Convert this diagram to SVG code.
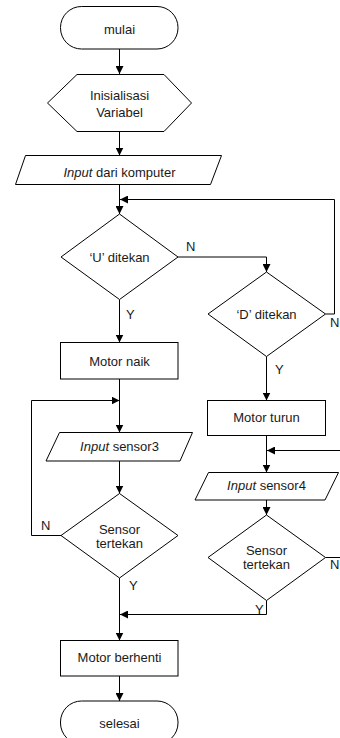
<svg xmlns="http://www.w3.org/2000/svg" width="340" height="738" viewBox="0 0 340 738">
  <style>
    .shape { fill: #ffffff; stroke: #000000; stroke-width: 1; }
    .wire { fill: none; stroke: #000000; stroke-width: 1; }
    text { font-family: "Liberation Sans", Arial, sans-serif; font-size: 13px; fill: #1a1a1a; }
    .c { text-anchor: middle; }
    .i { font-style: italic; }
  </style>
  <defs>
    <marker id="arrow" markerUnits="userSpaceOnUse" markerWidth="8" markerHeight="8" refX="8" refY="4" orient="auto">
      <path d="M0,0 L8,4 L0,8 z" fill="#000000"/>
    </marker>
  </defs>
  <rect width="340" height="738" fill="#ffffff"/>

  <!-- connectors -->
  <g id="connectors">
    <path class="wire" d="M119.5,49 V74" marker-end="url(#arrow)"/>
    <path class="wire" d="M119.5,131.5 V155.5" marker-end="url(#arrow)"/>
    <path class="wire" d="M119.5,184.5 V214" marker-end="url(#arrow)"/>
    <path class="wire" d="M325.5,314 H334.5 V199.5 H120" marker-end="url(#arrow)"/>
    <path class="wire" d="M178,257 H266.5 V272" marker-end="url(#arrow)"/>
    <path class="wire" d="M119.5,299.5 V342.5" marker-end="url(#arrow)"/>
    <path class="wire" d="M119.5,379 V432.5" marker-end="url(#arrow)"/>
    <path class="wire" d="M61,535.5 H31.5 V400.5 H119.5" marker-end="url(#arrow)"/>
    <path class="wire" d="M119.5,461 V493.5" marker-end="url(#arrow)"/>
    <path class="wire" d="M266.5,356.5 V400.5" marker-end="url(#arrow)"/>
    <path class="wire" d="M266.5,435.5 V472.5" marker-end="url(#arrow)"/>
    <path class="wire" d="M341,450.5 H267" marker-end="url(#arrow)"/>
    <path class="wire" d="M266.5,500 V515" marker-end="url(#arrow)"/>
    <path class="wire" d="M325.5,557.5 H341"/>
    <path class="wire" d="M266.5,600.5 V614.5 H120" marker-end="url(#arrow)"/>
    <path class="wire" d="M119.5,578 V640.5" marker-end="url(#arrow)"/>
    <path class="wire" d="M119.5,676 V701" marker-end="url(#arrow)"/>
  </g>

  <!-- branch labels -->
  <g id="labels">
    <text x="186" y="251">N</text>
    <text x="126" y="318.5">Y</text>
    <text x="330" y="326.5">N</text>
    <text x="275" y="374">Y</text>
    <text x="41" y="530">N</text>
    <text x="330" y="568.5">N</text>
    <text x="129" y="589.5">Y</text>
    <text x="255" y="613.5">Y</text>
  </g>

  <g id="mulai">
    <rect class="shape" x="60.5" y="6.5" width="117.5" height="42.5" rx="21" ry="21"/>
    <text class="c" x="119.5" y="33.5">mulai</text>
  </g>

  <g id="inisialisasi">
    <polygon class="shape" points="47.5,103 77,74.5 164,74.5 191.5,103 164,131.5 77,131.5"/>
    <text class="c" x="119.5" y="100">Inisialisasi</text>
    <text class="c" x="119.5" y="117">Variabel</text>
  </g>

  <g id="input-komputer">
    <polygon class="shape" points="25.5,155.5 221.5,155.5 210.5,184.5 15.5,184.5"/>
    <text class="c" x="119.5" y="176.5"><tspan class="i">Input</tspan> dari komputer</text>
  </g>

  <g id="cek-u">
    <polygon class="shape" points="119.5,214 178,257 119.5,299.5 61,257"/>
    <text class="c" x="119.5" y="261.5">‘U’ ditekan</text>
  </g>

  <g id="cek-d">
    <polygon class="shape" points="266.5,272 325.5,314 266.5,356.5 208,314"/>
    <text class="c" x="266.5" y="318.5">‘D’ ditekan</text>
  </g>

  <g id="motor-naik">
    <rect class="shape" x="60.5" y="342.5" width="117.5" height="36.5"/>
    <text class="c" x="119.5" y="365.5">Motor naik</text>
  </g>

  <g id="input-sensor3">
    <polygon class="shape" points="59.5,432.5 192.5,432.5 180,461 46,461"/>
    <text class="c" x="119.5" y="451"><tspan class="i">Input</tspan> sensor3</text>
  </g>

  <g id="sensor3-tertekan">
    <polygon class="shape" points="119.5,493.5 178,535.5 119.5,578 61,535.5"/>
    <text class="c" x="119.5" y="533.5">Sensor</text>
    <text class="c" x="119.5" y="548">tertekan</text>
  </g>

  <g id="motor-turun">
    <rect class="shape" x="207.5" y="400.5" width="118" height="35"/>
    <text class="c" x="266.5" y="421.5">Motor turun</text>
  </g>

  <g id="input-sensor4">
    <polygon class="shape" points="208.5,472.5 338.5,472.5 325,500 195,500"/>
    <text class="c" x="266.5" y="490"><tspan class="i">Input</tspan> sensor4</text>
  </g>

  <g id="sensor4-tertekan">
    <polygon class="shape" points="266.5,515 325.5,557.5 266.5,600.5 208,557.5"/>
    <text class="c" x="266.5" y="554.5">Sensor</text>
    <text class="c" x="266.5" y="569">tertekan</text>
  </g>

  <g id="motor-berhenti">
    <rect class="shape" x="60.5" y="640.5" width="117.5" height="35.5"/>
    <text class="c" x="119.5" y="661.5">Motor berhenti</text>
  </g>

  <g id="selesai">
    <rect class="shape" x="60.5" y="701" width="117.5" height="43" rx="21" ry="21"/>
    <text class="c" x="119.5" y="727.5">selesai</text>
  </g>
</svg>
